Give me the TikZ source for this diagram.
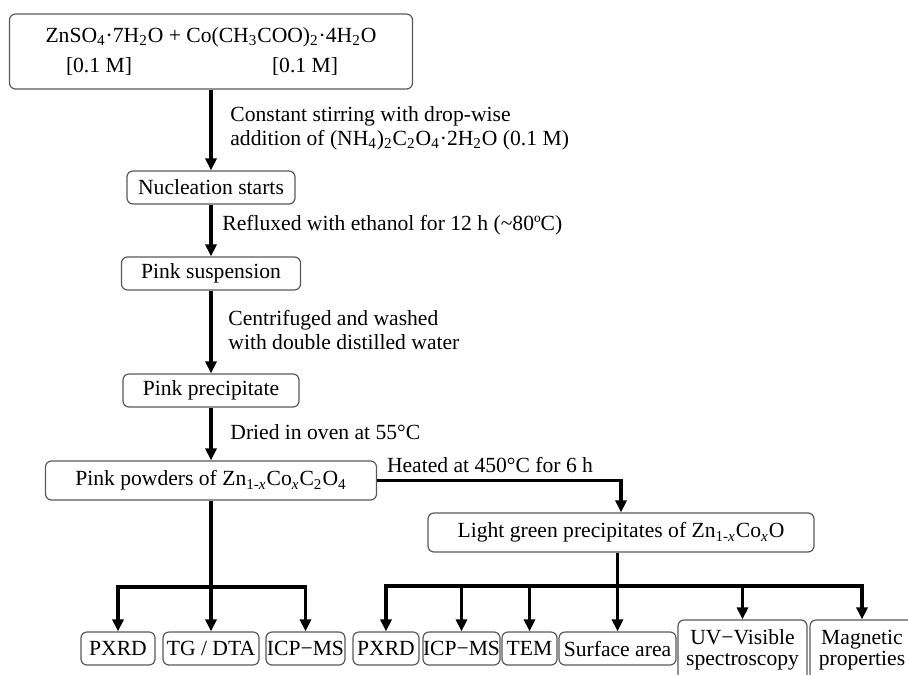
\documentclass[tikz,border=0pt]{standalone}
\usepackage{fontspec}
\setmainfont{Liberation Serif}
\usetikzlibrary{arrows.meta}
\tikzset{box/.style= {draw=black!65, line width=0.6pt, rounded corners=3pt, inner sep=0pt, align=center},
  testbox/.style= {box, minimum height=16.5pt},
  link/.style= {line width=1.7pt},
  arr/.style= {link, -{Triangle[length=6pt,width=5.5pt]}},
  note/.style= {inner sep=0pt, anchor=west, align=left}}

\begin{document}
\begin{tikzpicture}[x=0.5pt,y=-0.5pt,font=\fontsize{10.8}{12}\selectfont]
        \path[use as bounding box](0,0)rectangle(908,674);
        \clip(0,0)rectangle(908,674);

        \node[box,minimum width=201.5pt,minimum height=37.5pt](start)at(211,51.5){ZnSO\textsubscript{4}·7H\textsubscript{2}O + Co(CH\textsubscript{3}COO)\textsubscript{2}·4H\textsubscript{2}O\\[3pt]\makebox[164pt][l]{\hspace{9.5pt}\makebox[136pt][l]{[0.1 M]\hfill[0.1 M]}}};
        \node[box,minimum width=84pt,minimum height=16.5pt](nucl)at(211,187.5){Nucleation starts};
        \node[box,minimum width=89.5pt,minimum height=16.5pt](susp)at(211,273.5){Pink suspension};
        \node[box,minimum width=88pt,minimum height=16.5pt](prec)at(211,390.5){Pink precipitate};
        \node[box,minimum width=165.5pt,minimum height=19.5pt](powd)at(211,480.5){Pink powders of Zn\textsubscript{1-\textit{x}}Co\textsubscript{\textit{x}}C\textsubscript{2}O\textsubscript{4}};
        \node[box,minimum width=193pt,minimum height=19.5pt](green)at(621,532.5){Light green precipitates of Zn\textsubscript{1-\textit{x}}Co\textsubscript{\textit{x}}O};

        \node[testbox,minimum width=37pt](pxrdA)at(118,648.5){PXRD};
        \node[testbox,minimum width=48pt](tgdta)at(211,648.5){TG / DTA};
        \node[testbox,minimum width=39.5pt](icpA)at(305.5,648.5){ICP−MS};
        \node[testbox,minimum width=33pt](pxrdB)at(386,648.5){PXRD};
        \node[testbox,minimum width=38.5pt](icpB)at(461.5,648.5){ICP−MS};
        \node[testbox,minimum width=27.5pt](tem)at(529.5,648.5){TEM};
        \node[testbox,minimum width=58.5pt](surf)at(617.5,648.5){Surface area};
        \node[box,minimum width=64.5pt,minimum height=30pt,font=\fontsize{10.8}{10.5}\selectfont](uvvis)at(742.5,650){UV−Visible\\spectroscopy};
        \node[box,minimum width=52pt,minimum height=30pt,font=\fontsize{10.8}{10.5}\selectfont](magn)at(862,650){Magnetic\\properties};

        \node[note](stir)at(230,128){Constant stirring with drop-wise\\addition of (NH\textsubscript{4})\textsubscript{2}C\textsubscript{2}O\textsubscript{4}·2H\textsubscript{2}O (0.1 M)};
        \node[note](reflux)at(222,225){Refluxed with ethanol for 12 h (\textasciitilde80ºC)};
        \node[note](centr)at(228,330){Centrifuged and washed\\with double distilled water};
        \node[note](dried)at(230,432){Dried in oven at 55°C};
        \node[note,anchor=base west](heat)at([xshift=4.75pt,yshift=4.25pt]powd.east){Heated at 450°C for 6 h};

        \draw[arr](start)--(nucl);
        \draw[arr](nucl)--(susp);
        \draw[arr](susp)--(prec);
        \draw[arr](prec)--(powd);
        \draw[arr](powd.east)-|(green);

        \coordinate(lsplit)at(211,587);
        \draw[link](powd)--(lsplit);
        \draw[arr](lsplit)-|(pxrdA);
        \draw[arr](lsplit)--(tgdta);
        \draw[arr](lsplit)-|(icpA);

        \coordinate(rsplit)at(617.5,586);
        \draw[link](rsplit|-green.south)--(rsplit);
        \draw[arr](rsplit)-|(pxrdB);
        \draw[arr](rsplit)-|(icpB);
        \draw[arr](rsplit)-|(tem);
        \draw[arr](rsplit)--(surf);
        \draw[arr](rsplit)-|(uvvis);
        \draw[arr](rsplit)-|(magn);
    \end{tikzpicture}
\end{document}
